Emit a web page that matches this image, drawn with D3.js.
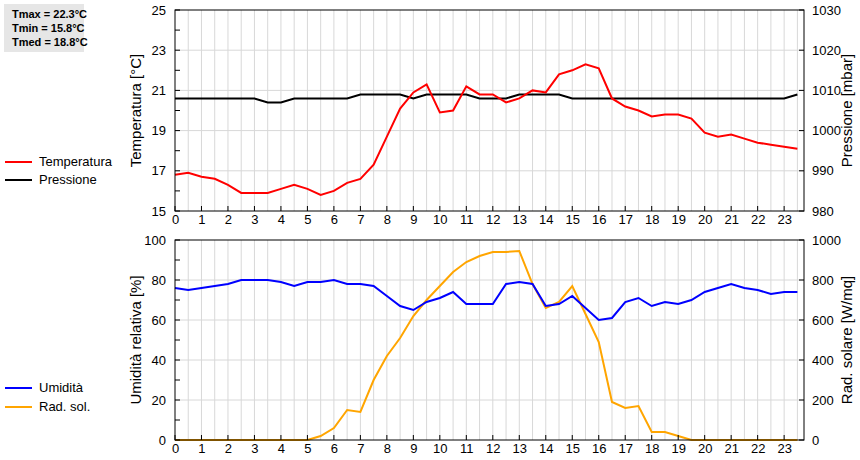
<!DOCTYPE html><html><head><meta charset="utf-8"><script src="https://cdn.jsdelivr.net/npm/d3@7"></script>
<style>body{margin:0;background:#fff}text{font-family:"Liberation Sans",Arial,sans-serif}</style></head><body><svg id="c" width="860" height="460"></svg><script>
const hours=d3.range(48).map(i=>i/2);
const temperature=[16.8,16.9,16.7,16.6,16.3,15.9,15.9,15.9,16.1,16.3,16.1,15.8,16.0,16.4,16.6,17.3,18.7,20.1,20.9,21.3,19.9,20.0,21.2,20.8,20.8,20.4,20.6,21.0,20.9,21.8,22.0,22.3,22.1,20.6,20.2,20.0,19.7,19.8,19.8,19.6,18.9,18.7,18.8,18.6,18.4,18.3,18.2,18.1];
const pressure=[1008,1008,1008,1008,1008,1008,1008,1007,1007,1008,1008,1008,1008,1008,1009,1009,1009,1009,1008,1009,1009,1009,1009,1008,1008,1008,1009,1009,1009,1009,1008,1008,1008,1008,1008,1008,1008,1008,1008,1008,1008,1008,1008,1008,1008,1008,1008,1009];
const humidity=[76,75,76,77,78,80,80,80,79,77,79,79,80,78,78,77,72,67,65,69,71,74,68,68,68,78,79,78,67,68,72,66,60,61,69,71,67,69,68,70,74,76,78,76,75,73,74,74];
const radiation=[0,0,0,0,0,0,0,0,0,0,0,20,60,150,140,300,420,510,620,700,770,840,890,920,940,940,945,780,660,690,770,630,490,190,160,170,40,40,20,0,0,0,0,0,0,0,0,0];
const hourTicks=d3.range(24);
const svg=d3.select("#c");
const FF="Liberation Sans";
const x=d3.scaleLinear().domain([0,23.75]).range([175,804]);
function panel(y0,y1,lDom,rDom,lTicks,rTicks,lMinor,lTitle,rTitle,series){
  const yl=d3.scaleLinear().domain(lDom).range([y1,y0]);
  const yr=d3.scaleLinear().domain(rDom).range([y1,y0]);
  const g=svg.append("g");
  g.selectAll(".v").data(d3.range(1,48).map(i=>i/2)).join("line").attr("x1",d=>x(d)).attr("x2",d=>x(d)).attr("y1",y0).attr("y2",y1).attr("stroke","#d8d8d8");
  g.selectAll(".h").data(lTicks.slice(1,-1)).join("line").attr("x1",175).attr("x2",804).attr("y1",d=>yl(d)).attr("y2",d=>yl(d)).attr("stroke","#d8d8d8");
  series.forEach(s=>{
    const sc=s.right?yr:yl;
    g.append("path").datum(s.data).attr("fill","none").attr("stroke",s.color).attr("stroke-width",2)
     .attr("d",d3.line().x((d,i)=>x(hours[i])).y(d=>sc(d)));
  });
  g.append("rect").attr("x",175).attr("y",y0).attr("width",629).attr("height",y1-y0).attr("fill","none").attr("stroke","#000");
  const la=svg.append("g").attr("transform","translate(175,0)").call(d3.axisLeft(yl).tickValues(lTicks).tickSize(0).tickPadding(9).tickFormat(d3.format("d")));
  la.select(".domain").remove();
  svg.append("g").selectAll("line").data(lMinor).join("line").attr("x1",175).attr("x2",180).attr("y1",d=>yl(d)).attr("y2",d=>yl(d)).attr("stroke","#000");
  svg.append("g").selectAll("line").data(lTicks).join("line").attr("x1",175).attr("x2",180).attr("y1",d=>yl(d)).attr("y2",d=>yl(d)).attr("stroke","#000");
  svg.append("g").selectAll("line").data(lTicks).join("line").attr("x1",799).attr("x2",804).attr("y1",d=>yl(d)).attr("y2",d=>yl(d)).attr("stroke","#000");
  const ra=svg.append("g").attr("transform","translate(804,0)").call(d3.axisRight(yr).tickValues(rTicks).tickSize(0).tickPadding(8).tickFormat(d3.format("d")));
  ra.select(".domain").remove();
  const xa=svg.append("g").attr("transform",`translate(0,${y1})`).call(d3.axisBottom(x).tickValues(hourTicks).tickSize(0).tickPadding(4).tickFormat(d3.format("d")));
  xa.select(".domain").remove();
  svg.append("g").selectAll("line").data(hourTicks).join("line").attr("x1",d=>x(d)).attr("x2",d=>x(d)).attr("y1",y1-5).attr("y2",y1).attr("stroke","#000");
  svg.selectAll(".tick text").attr("font-size",13).attr("fill","#000").attr("font-family",FF);
  svg.append("text").attr("transform",`translate(141,${(y0+y1)/2}) rotate(-90)`).attr("text-anchor","middle").attr("font-size",15).text(lTitle);
  svg.append("text").attr("transform",`translate(852,${(y0+y1)/2}) rotate(-90)`).attr("text-anchor","middle").attr("font-size",15).text(rTitle);
}
panel(10,211,[15,25],[980,1030],[15,17,19,21,23,25],[980,990,1000,1010,1020,1030],[16,18,20,22,24],"Temperatura [°C]","Pressione [mbar]",
  [{data:pressure,color:"#000",right:true},{data:temperature,color:"#f00"}]);
panel(240,440,[0,100],[0,1000],[0,20,40,60,80,100],[0,200,400,600,800,1000],[10,30,50,70,90],"Umidità relativa [%]","Rad. solare [W/mq]",
  [{data:radiation,color:"#ffa500",right:true},{data:humidity,color:"#00f"}]);
svg.append("rect").attr("x",4).attr("y",4).attr("width",80).attr("height",48).attr("fill","#e6e6e6");
const info=["Tmax = 22.3°C","Tmin = 15.8°C","Tmed = 18.8°C"];
svg.append("g").selectAll("text").data(info).join("text").attr("x",12).attr("y",(d,i)=>18+i*14).attr("font-family","DejaVu Sans Mono").attr("font-weight","bold").attr("font-size",11).text(d=>d);
const legends=[{y:162,c:"#f00",t:"Temperatura"},{y:180,c:"#000",t:"Pressione"},{y:388,c:"#00f",t:"Umidità"},{y:407,c:"#ffa500",t:"Rad. sol."}];
const lg=svg.append("g").selectAll("g").data(legends).join("g");
lg.append("line").attr("x1",5).attr("x2",32).attr("y1",d=>d.y).attr("y2",d=>d.y).attr("stroke",d=>d.c).attr("stroke-width",2);
lg.append("text").attr("x",39).attr("y",d=>d.y+4).attr("font-size",13).text(d=>d.t);
</script></body></html>
